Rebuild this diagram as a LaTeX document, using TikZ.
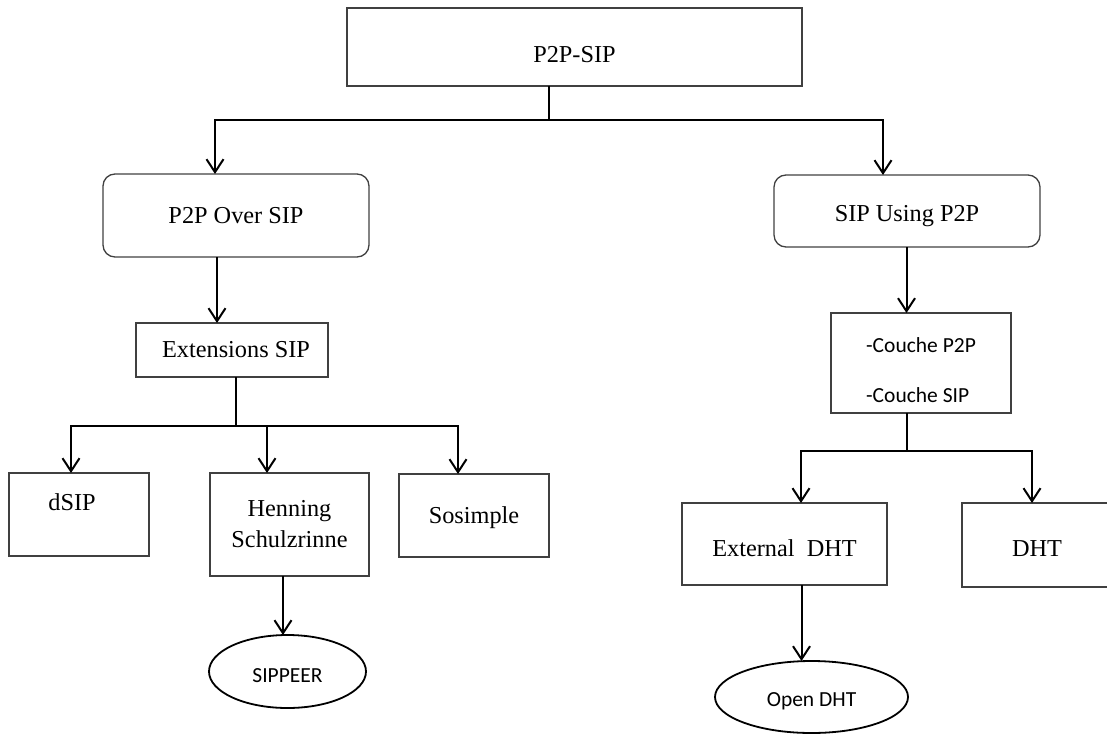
\documentclass[tikz,border=0pt]{standalone}
\usepackage{fontspec}
\setmainfont{Liberation Serif}
\newfontfamily\calibri{Carlito}
\usetikzlibrary{arrows.meta,shapes.geometric}
\definecolor{boxgray}{HTML}{404040}

% text shifted vertically inside its node without changing the node size
\newcommand{\lowered}[2]{\raisebox{#1}[\height][\depth]{#2}}

\begin{document}
\begin{tikzpicture}[x=1pt,y=-1pt,
  every node/.style={inner sep=0pt, outer sep=0pt},
  box/.style={draw=boxgray, line width=1.3pt, rectangle,
    font=\fontsize{24.3}{31}\selectfont},
  oneline/.style={text height=15.9pt, text depth=0pt},
  rbox/.style={box, rounded corners=12pt},
  oval/.style={ellipse, draw=black, line width=1.8pt,
    font=\calibri\fontsize{21.5}{25}\selectfont,
    text height=13.8pt, text depth=0pt},
  conn/.style={draw=black, line width=2pt},
  >={Straight Barb[length=13pt,width=17pt]},
]
\useasboundingbox (0,0) rectangle (1107,733);

% ---- nodes ----
\node[box, oneline, minimum width=455pt, minimum height=78pt] (root) at (574.5,47)
  {\lowered{-8pt}{P2P-SIP}};

\node[rbox, oneline, minimum width=266pt, minimum height=83pt] (over) at (236,215.5)
  {P2P Over SIP};
\node[rbox, oneline, minimum width=266pt, minimum height=72pt] (using) at (907,211)
  {\lowered{-3pt}{SIP Using P2P}};

\node[box, oneline, minimum width=192pt, minimum height=54pt] (ext) at (232,350)
  {\kern8pt Extensions SIP};

\node[box, oneline, minimum width=140pt, minimum height=83pt] (dsip) at (79,514.5)
  {\lowered{11.5pt}{dSIP}\kern14pt};
\node[box, align=center, minimum width=159pt, minimum height=103pt] (henning) at (289.5,524.5)
  {Henning\\Schulzrinne};
\node[box, oneline, minimum width=150pt, minimum height=83pt] (sosimple) at (474,515.5)
  {Sosimple};

\node[box, minimum width=180pt, minimum height=100pt,
  font=\calibri\fontsize{21.5}{25}\selectfont] (couche) at (921,363)
  {\lowered{-7pt}{\vbox{\baselineskip=50pt\hbox{-Couche P2P}\hbox{-Couche SIP}}}};

\node[box, oneline, minimum width=205pt, minimum height=82pt] (extdht) at (784.5,544)
  {\lowered{-5pt}{External\ \ DHT}};
\node[box, oneline, minimum width=150pt, minimum height=84pt] (dht) at (1037,545)
  {\lowered{-4pt}{DHT}};

\node[oval, minimum width=157pt, minimum height=73pt] (sippeer) at (287.5,671.5)
  {\lowered{-4.5pt}{SIPPEER}};
\node[oval, minimum width=193pt, minimum height=72pt] (opendht) at (811.5,697)
  {\lowered{-3pt}{Open DHT}};

% ---- connector junctions ----
\coordinate (r0) at (549,120);
\coordinate (rL) at (215,120);
\coordinate (rR) at (883,120);
\coordinate (a1) at (217,0);
\coordinate (e0) at (236,426);
\coordinate (eL) at (71,426);
\coordinate (eM) at (267,426);
\coordinate (eR) at (458,426);
\coordinate (h1) at (283,0);
\coordinate (u1) at (906.5,0);
\coordinate (c0) at (907,451);
\coordinate (cL) at (801,451);
\coordinate (cR) at (1032,451);
\coordinate (x1) at (801.5,0);

% ---- connectors ----
\draw[conn] (root.south -| r0) -- (r0);
\draw[conn,<->] (over.north -| rL) -- (rL) -- (rR) -- (using.north -| rR);

\draw[conn,->] (over.south -| a1) -- (ext.north -| a1);
\draw[conn] (ext.south -| e0) -- (e0);
\draw[conn,<->] (dsip.north -| eL) -- (eL) -- (eR) -- (sosimple.north -| eR);
\draw[conn,->] (eM) -- (henning.north -| eM);
\draw[conn,->] (henning.south -| h1) -- (sippeer.north -| h1);

\draw[conn,->] (using.south -| u1) -- (couche.north -| u1);
\draw[conn] (couche.south -| c0) -- (c0);
\draw[conn,<->] (extdht.north -| cL) -- (cL) -- (cR) -- (dht.north -| cR);
\draw[conn,->] (extdht.south -| x1) -- (opendht.north -| x1);
\end{tikzpicture}
\end{document}
